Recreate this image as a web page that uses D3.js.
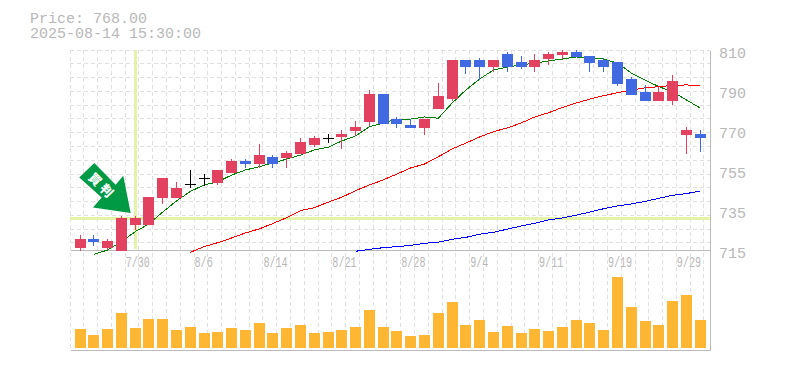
<!DOCTYPE html>
<html>
<head>
<meta charset="utf-8">
<script src="https://cdn.jsdelivr.net/npm/d3@7"></script>
<style>
  html, body { margin: 0; padding: 0; background: #fff; }
  svg { display: block; }
  text { font-family: "Liberation Mono", monospace; fill: #b8b8b8; }
</style>
</head>
<body>
<svg id="chart" width="785" height="370"></svg>
<script>
// values
let opens = [716.1,720.2,716.1,714.7,726.9,726.9,739.7,739.7,746.35,749.2,746.8,751.6,757.3,755.85,759.2,758.7,760.6,764.9,768.05,768.7,771.5,775.8,789.1,777.2,774.4,773,782,786.7,805.25,805.25,801.9,808.1,804.3,801.9,805.7,807.6,809,807.15,805.25,804.3,796.2,790.05,785.8,785.8,769.6,770.1];
let highs = [722.1,722.1,720.2,731.3,731.2,740.2,749.2,747.3,753,751.1,753,758.2,758.2,765.35,760.1,762,768.2,769.15,770.1,772,776.3,791,789.1,778.2,777.2,777.2,794.3,805.25,805.25,806.2,805.25,809,807.15,808.1,809,810,810,807.15,806.2,804.3,797.2,793.4,792.45,798.1,773.4,772];
let lows = [714.7,717,715,714.7,724.5,726.9,736.8,739.7,744.3,745.4,745.9,751.6,754,754.1,754.1,754,760.6,763.9,765.8,763,769.15,773.9,774.85,773,773,769.6,782,785.8,798.6,795.75,799.55,799.55,801,799.55,802.9,805.7,806.7,799.55,799.55,792.9,788.6,785.8,785.8,783.9,760.6,761.55];
let closes = [720.2,718.8,719.3,730.2,730.2,740.2,749.2,744.45,746.35,749.2,753,757.3,755.85,760.1,755.85,761,766.3,768.2,768.05,770.1,773.4,789.1,774.85,774.85,773,777.2,788.15,805.25,801.9,801.9,805.25,801.9,801.9,805.25,808.1,809,806.7,803.8,801.9,793.85,788.6,785.8,790.05,795.3,772,768];
let volumes = [57,39,57,105,60,87,87,54,63,45,48,60,54,75,45,60,69,45,48,54,63,114,63,51,36,39,105,138,69,84,48,66,45,57,51,63,84,75,54,213,123,81,69,141,159,84];

let maShort = [712.9,715,718.9,723.7,727.35,733.05,738.3,742.8,745.9,747.4,750.6,753,754.6,756.3,758.2,760.1,762.5,763.8,766.8,769.2,773.6,775.3,777.2,777.2,778.2,777.6,784.8,791,796.2,800.5,801.9,802.9,803.8,804.8,805.7,806.7,806.3,805.7,803.8,799.1,795.75,792.6,790.2,786.3,782.45];
let maMid = [713.9,716.6,718.5,720.7,723.1,725,727.6,730.4,733.7,735.1,737.7,740.1,743.2,745.9,748.3,751.1,754,755.85,759.3,763,765.8,768.7,771.2,773,775.3,778.2,780.2,782.7,784.8,786.7,788.3,789.7,791,792,792.6,793.2,793.4,793.2];
let maLong = [714.4,715.3,716.1,716.6,717.2,718.2,718.7,720.1,721,722.5,723.4,724.9,726.4,727.7,729.3,730.2,731.5,733.05,734.6,735.9,736.85,738.1,739.55,741,741.8,743];

let tickIndex = [4,9,14,19,24,29,34,39,44];
let tickDates = ["7/30","8/6","8/14","8/21","8/28","9/4","9/11","9/19","9/29"];
let priceTicks = [715,734,753,772,791,810];
let priceLabels = ["715","735","755","770","790","810"];

let titleLines = ["Price: 768.00","2025-08-14 15:30:00"];
let signalText = "買判";
let signalIndex = 4;

let step = 13.78;
let xl = 70, xr = 710, yt = 50, ym = 250, yb = 350;

let svg = d3.select("#chart");

let x = d3.scaleLinear().domain([0, 45]).range([xl + 10.05, xl + 10.05 + 45 * step]);
let y = d3.scaleLinear().domain([715, 810]).range([ym, yt]);
let yVol = d3.scaleLinear().domain([0, 300]).range([348, 248]);

// left pixel of a candle, the wick sits 5px in
let left = i => Math.round(x(i) - 5.5);

// grid
let gridG = svg.append("g")
    .attr("stroke", "#e0e0e0")
    .attr("stroke-dasharray", "4,3")
    .attr("shape-rendering", "crispEdges");

gridG.selectAll(".v").data(d3.range(47)).enter().append("line")
    .attr("x1", k => Math.floor(x(k) - 10) + 0.5)
    .attr("x2", k => Math.floor(x(k) - 10) + 0.5)
    .attr("y1", yt)
    .attr("y2", yb);

gridG.selectAll(".h").data(d3.range(15)).enter().append("line")
    .attr("x1", xl)
    .attr("x2", xr)
    .attr("y1", k => Math.floor(yt + k * step) + 0.5)
    .attr("y2", k => Math.floor(yt + k * step) + 0.5);

// signal cross hair
svg.append("line")
    .attr("x1", xl).attr("x2", xr)
    .attr("y1", y(closes[3])).attr("y2", y(closes[3]))
    .attr("stroke", "#e4f3a8").attr("stroke-width", 3)
    .attr("shape-rendering", "crispEdges");
svg.append("line")
    .attr("x1", left(signalIndex) + 5.5).attr("x2", left(signalIndex) + 5.5)
    .attr("y1", yt).attr("y2", ym - 1)
    .attr("stroke", "#e4f3a8").attr("stroke-width", 3)
    .attr("shape-rendering", "crispEdges");

// frame
let frame = [[xl, ym, xr, ym], [xl, yb, xr, yb], [xr, yt, xr, yb]];
svg.selectAll(".frame").data(frame).enter().append("line")
    .attr("x1", d => d[0] + 0.5).attr("y1", d => d[1] + 0.5)
    .attr("x2", d => d[2] + 0.5).attr("y2", d => d[3] + 0.5)
    .attr("stroke", "#bbbbbb").attr("stroke-width", 1)
    .attr("shape-rendering", "crispEdges");

// moving averages
let line = d3.line().x(d => x(d.i)).y(d => y(d.v));
let drawMa = function (values, last, color) {
    let start = last - values.length + 1;
    svg.append("path")
        .datum(values.map((v, n) => ({ i: start + n, v: v })))
        .attr("d", line)
        .attr("fill", "none")
        .attr("stroke", color)
        .attr("stroke-width", 1)
        .attr("shape-rendering", "crispEdges");
};
drawMa(maShort, 45, "#008000");
drawMa(maMid, 45, "#ff0000");
drawMa(maLong, 45, "#0000ff");

// candles
let candleColor = i => closes[i] > opens[i] ? "#e2415f" : closes[i] < opens[i] ? "#4169e1" : "#000";
let candles = svg.append("g").attr("shape-rendering", "crispEdges");

candles.selectAll(".wick").data(d3.range(opens.length)).enter().append("rect")
    .attr("x", i => left(i) + 5)
    .attr("width", 1)
    .attr("y", i => y(highs[i]))
    .attr("height", i => y(lows[i]) - y(highs[i]))
    .attr("fill", candleColor);

candles.selectAll(".body").data(d3.range(opens.length)).enter().append("rect")
    .attr("x", left)
    .attr("width", 11)
    .attr("y", i => y(Math.max(opens[i], closes[i])))
    .attr("height", i => Math.max(1, Math.abs(y(opens[i]) - y(closes[i]))))
    .attr("fill", candleColor);

// volume
svg.append("g").attr("shape-rendering", "crispEdges")
    .selectAll("rect").data(volumes).enter().append("rect")
    .attr("x", (d, i) => left(i))
    .attr("width", 11)
    .attr("y", d => yVol(d))
    .attr("height", d => yVol(0) - yVol(d))
    .attr("fill", "#ffb733");

// axes
let xAxis = d3.axisBottom(x).tickValues(tickIndex).tickSize(0)
    .tickFormat(i => tickDates[tickIndex.indexOf(i)]);
let xG = svg.append("g").attr("transform", "translate(0," + ym + ")").call(xAxis);
xG.select(".domain").remove();
xG.selectAll("text")
    .attr("y", 0)
    .attr("dy", 0)
    .attr("x", 0)
    .attr("transform", "translate(-10,17) scale(0.72,1)")
    .style("text-anchor", "start")
    .style("font-family", "'Liberation Mono', monospace")
    .style("font-size", "14px")
    .style("fill", "#b8b8b8");

let yAxis = d3.axisRight(y).tickValues(priceTicks).tickSize(0)
    .tickFormat(v => priceLabels[priceTicks.indexOf(v)]);
let yG = svg.append("g").attr("transform", "translate(" + xr + ",0)").call(yAxis);
yG.select(".domain").remove();
yG.selectAll("text")
    .attr("x", 9)
    .attr("dy", "0.5em")
    .style("text-anchor", "start")
    .style("font-family", "'Liberation Mono', monospace")
    .style("font-size", "15px")
    .style("fill", "#b8b8b8");

// title
svg.selectAll(".title").data(titleLines).enter().append("text")
    .attr("x", 30)
    .attr("y", (d, i) => 23 + i * 15)
    .style("font-size", "15px")
    .text(d => d);

// signal arrow, offsets from the tip
let tip = [x(signalIndex) - 4.5, y(closes[3]) - 5];
let arrowShape = [[-51.4,-35.6],[-36.4,-50],[-15,-28.3],[-7.4,-37.3],[0,0],[-37.7,-5.6],[-29,-15.6]];
let arrow = svg.append("g").attr("transform", "translate(" + tip[0] + "," + tip[1] + ")");
arrow.append("polygon")
    .attr("points", arrowShape.map(p => p.join(",")).join(" "))
    .attr("fill", "#009944");
arrow.append("text")
    .attr("transform", "translate(-30,-28) rotate(45)")
    .attr("x", 2)
    .attr("text-anchor", "middle")
    .attr("dy", "0.36em")
    .style("font-family", "'Noto Sans CJK JP', sans-serif")
    .style("font-weight", "900")
    .style("font-size", "12.5px")
    .style("letter-spacing", "3.5px")
    .style("fill", "#fff")
    .text(signalText);
</script>
</body>
</html>
